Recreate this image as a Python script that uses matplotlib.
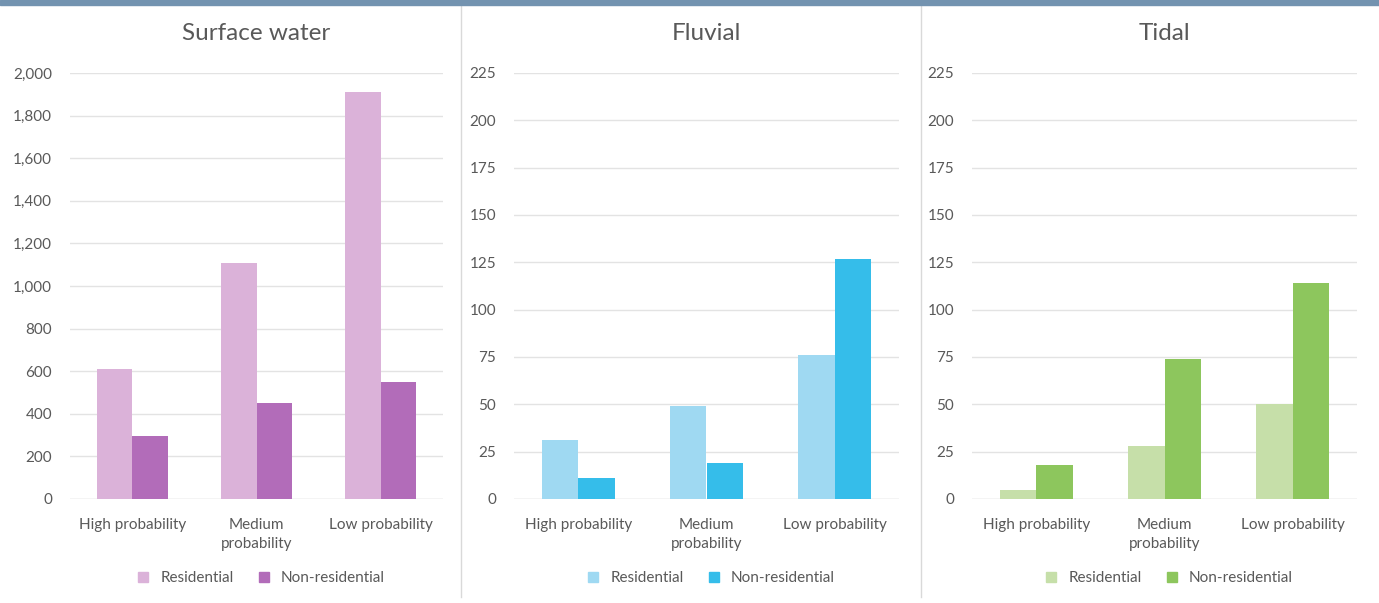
import matplotlib
matplotlib.use("Agg")
import matplotlib.pyplot as plt
from matplotlib.lines import Line2D
from matplotlib.patches import Rectangle

categories = ["High probability", "Medium\nprobability", "Low probability"]
series_names = ["Residential", "Non-residential"]

surface_res = [610, 1110, 1910]
surface_nonres = [295, 450, 550]
fluvial_res = [31, 49, 76]
fluvial_nonres = [11, 19, 127]
tidal_res = [5, 28, 50]
tidal_nonres = [18, 74, 114]

titles = ["Surface water", "Fluvial", "Tidal"]
surface_ticks = list(range(0, 2001, 200))
flood_ticks = list(range(0, 226, 25))

plt.rcParams['font.family'] = ['Lato', 'DejaVu Sans']

W, H = 1379, 603
fig = plt.figure(figsize=(W / 100, H / 100), dpi=100)
fig.patch.set_facecolor("white")

panels = [
    (titles[0], surface_res, surface_nonres, surface_ticks, ("#dbb2d9", "#b26cb9"), 70, 443),
    (titles[1], fluvial_res, fluvial_nonres, flood_ticks, ("#9fd9f2", "#35bdea"), 514, 899),
    (titles[2], tidal_res, tidal_nonres, flood_ticks, ("#c6dfa9", "#8dc65d"), 972, 1357),
]

y0_px, ytop_px = 499, 73
bw = 0.285
for title, res, nonres, ticks, cols, xl, xr in panels:
    ax = fig.add_axes([xl / W, 1 - y0_px / H, (xr - xl) / W, (y0_px - ytop_px) / H])
    x = list(range(len(categories)))
    ax.bar([i - bw / 2 for i in x], res, width=bw, color=cols[0], zorder=2)
    ax.bar([i + bw / 2 for i in x], nonres, width=bw, color=cols[1], zorder=2)
    ax.set_xlim(-0.5, 2.5)
    ax.set_ylim(ticks[0], ticks[-1])
    ax.set_yticks(ticks)
    ax.set_yticklabels([f"{t:,}" for t in ticks])
    ax.set_xticks(x)
    ax.set_xticklabels(categories, linespacing=1.45)
    ax.tick_params(axis="both", length=0, labelsize=11, colors="#595959")
    ax.tick_params(axis="y", pad=13)
    ax.tick_params(axis="x", pad=14)
    ax.grid(axis="y", color="#e3e3e3", linewidth=1, zorder=0)
    for s in ax.spines.values():
        s.set_visible(False)
    ax.axhline(0, color="#e3e3e3", linewidth=1, zorder=1)
    ax.set_facecolor("white")
    cx = (xl + xr) / 2 / W
    fig.text(cx, 1 - 33 / H, title, ha="center", va="center", fontsize=17.5, color="#595959")
    handles = [Line2D([], [], marker="s", linestyle="none", markersize=7, color=c) for c in cols]
    fig.legend(handles, series_names, loc="center", bbox_to_anchor=(cx, 1 - 578 / H),
               ncol=2, frameon=False, fontsize=11, handletextpad=0.1, columnspacing=1.0,
               labelcolor="#595959")

# top banner and panel separators
fig.add_artist(Rectangle((0, 1 - 5 / H), 1, 5 / H, transform=fig.transFigure,
                         color="#7393b0", zorder=5))
for sx in (461, 921):
    fig.add_artist(Line2D([sx / W, sx / W], [1 - 597 / H, 1 - 5 / H],
                          transform=fig.transFigure, color="#d9d9d9", linewidth=1))

fig.savefig("out.png", dpi=100, facecolor="white")
